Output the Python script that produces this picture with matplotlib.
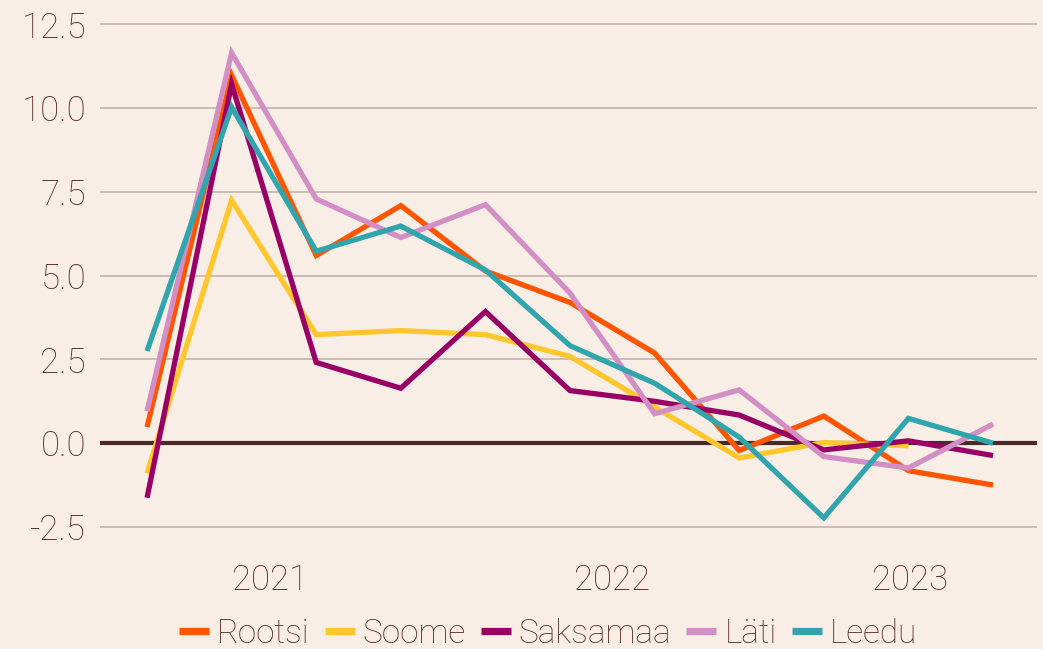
import matplotlib
matplotlib.use("Agg")
import matplotlib.pyplot as plt
import numpy as np

series_names = ["Rootsi", "Soome", "Saksamaa", "Läti", "Leedu"]
rootsi   = [0.48, 10.98, 5.60, 7.09, 5.14, 4.20, 2.69, -0.22, 0.81, -0.82, -1.25]
soome    = [-0.90, 7.25, 3.24, 3.36, 3.24, 2.59, 1.08, -0.44, 0.02, -0.08, np.nan]
saksamaa = [-1.63, 10.72, 2.41, 1.64, 3.93, 1.57, 1.25, 0.84, -0.20, 0.07, -0.37]
lati     = [0.95, 11.65, 7.29, 6.14, 7.12, 4.48, 0.88, 1.59, -0.40, -0.74, 0.57]
leedu    = [2.75, 10.03, 5.73, 6.48, 5.17, 2.91, 1.79, 0.18, -2.23, 0.74, 0.00]
colors = ["#FF5500", "#FFC72C", "#990066", "#D38FC5", "#31A5AE"]

year_labels = ["2021", "2022", "2023"]
year_tick_pos = [1.45, 5.5, 9.02]
y_ticks = [-2.5, 0.0, 2.5, 5.0, 7.5, 10.0, 12.5]

bg = "#F9EEE5"
txt = "#5A2E2C"

plt.rcParams['font.family'] = ['Roboto', 'DejaVu Sans']

fig = plt.figure(figsize=(10.43, 6.49), dpi=100, facecolor=bg)
W, H = 1043, 649
left, right, top, bottom = 100, 1037, 12, 540
ax = fig.add_axes([left / W, 1 - bottom / H, (right - left) / W, (bottom - top) / H])
ax.set_facecolor(bg)

x = np.arange(len(rootsi))
data = [rootsi, soome, saksamaa, lati, leedu]
for name, vals, c in zip(series_names, data, colors):
    ax.plot(x, vals, color=c, lw=3.8, label=name, zorder=3, solid_capstyle='butt', solid_joinstyle='miter')

ax.axhline(0, color="#4A2A28", lw=3.0, zorder=2)
for v in y_ticks:
    if v != 0:
        ax.axhline(v, color="#C2AEA8", lw=1.1, zorder=1)

ax.set_xlim(-0.556, 10.52)
ax.set_ylim(-2.89, 12.87)
ax.set_yticks(y_ticks)
ax.set_yticklabels([f"{v:.1f}" for v in y_ticks])
ax.set_xticks(year_tick_pos)
ax.set_xticklabels(year_labels)
for s in ax.spines.values():
    s.set_visible(False)
ax.tick_params(axis='both', length=0, labelsize=25, labelcolor=txt)
ax.tick_params(axis='y', pad=10)
ax.tick_params(axis='x', pad=17)
for lab in ax.get_xticklabels() + ax.get_yticklabels():
    lab.set_fontweight('light')

leg = fig.legend(loc='center', bbox_to_anchor=(548 / W, 1 - 634 / H), ncol=5, frameon=False,
                 handlelength=0.9, handletextpad=0.24, columnspacing=0.45,
                 prop={'size': 24, 'weight': 'light'})
for t in leg.get_texts():
    t.set_color(txt)
for h in leg.get_lines():
    h.set_linewidth(5.2)
    h.set_solid_capstyle('butt')

fig.savefig("out.png", dpi=100, facecolor=bg)
